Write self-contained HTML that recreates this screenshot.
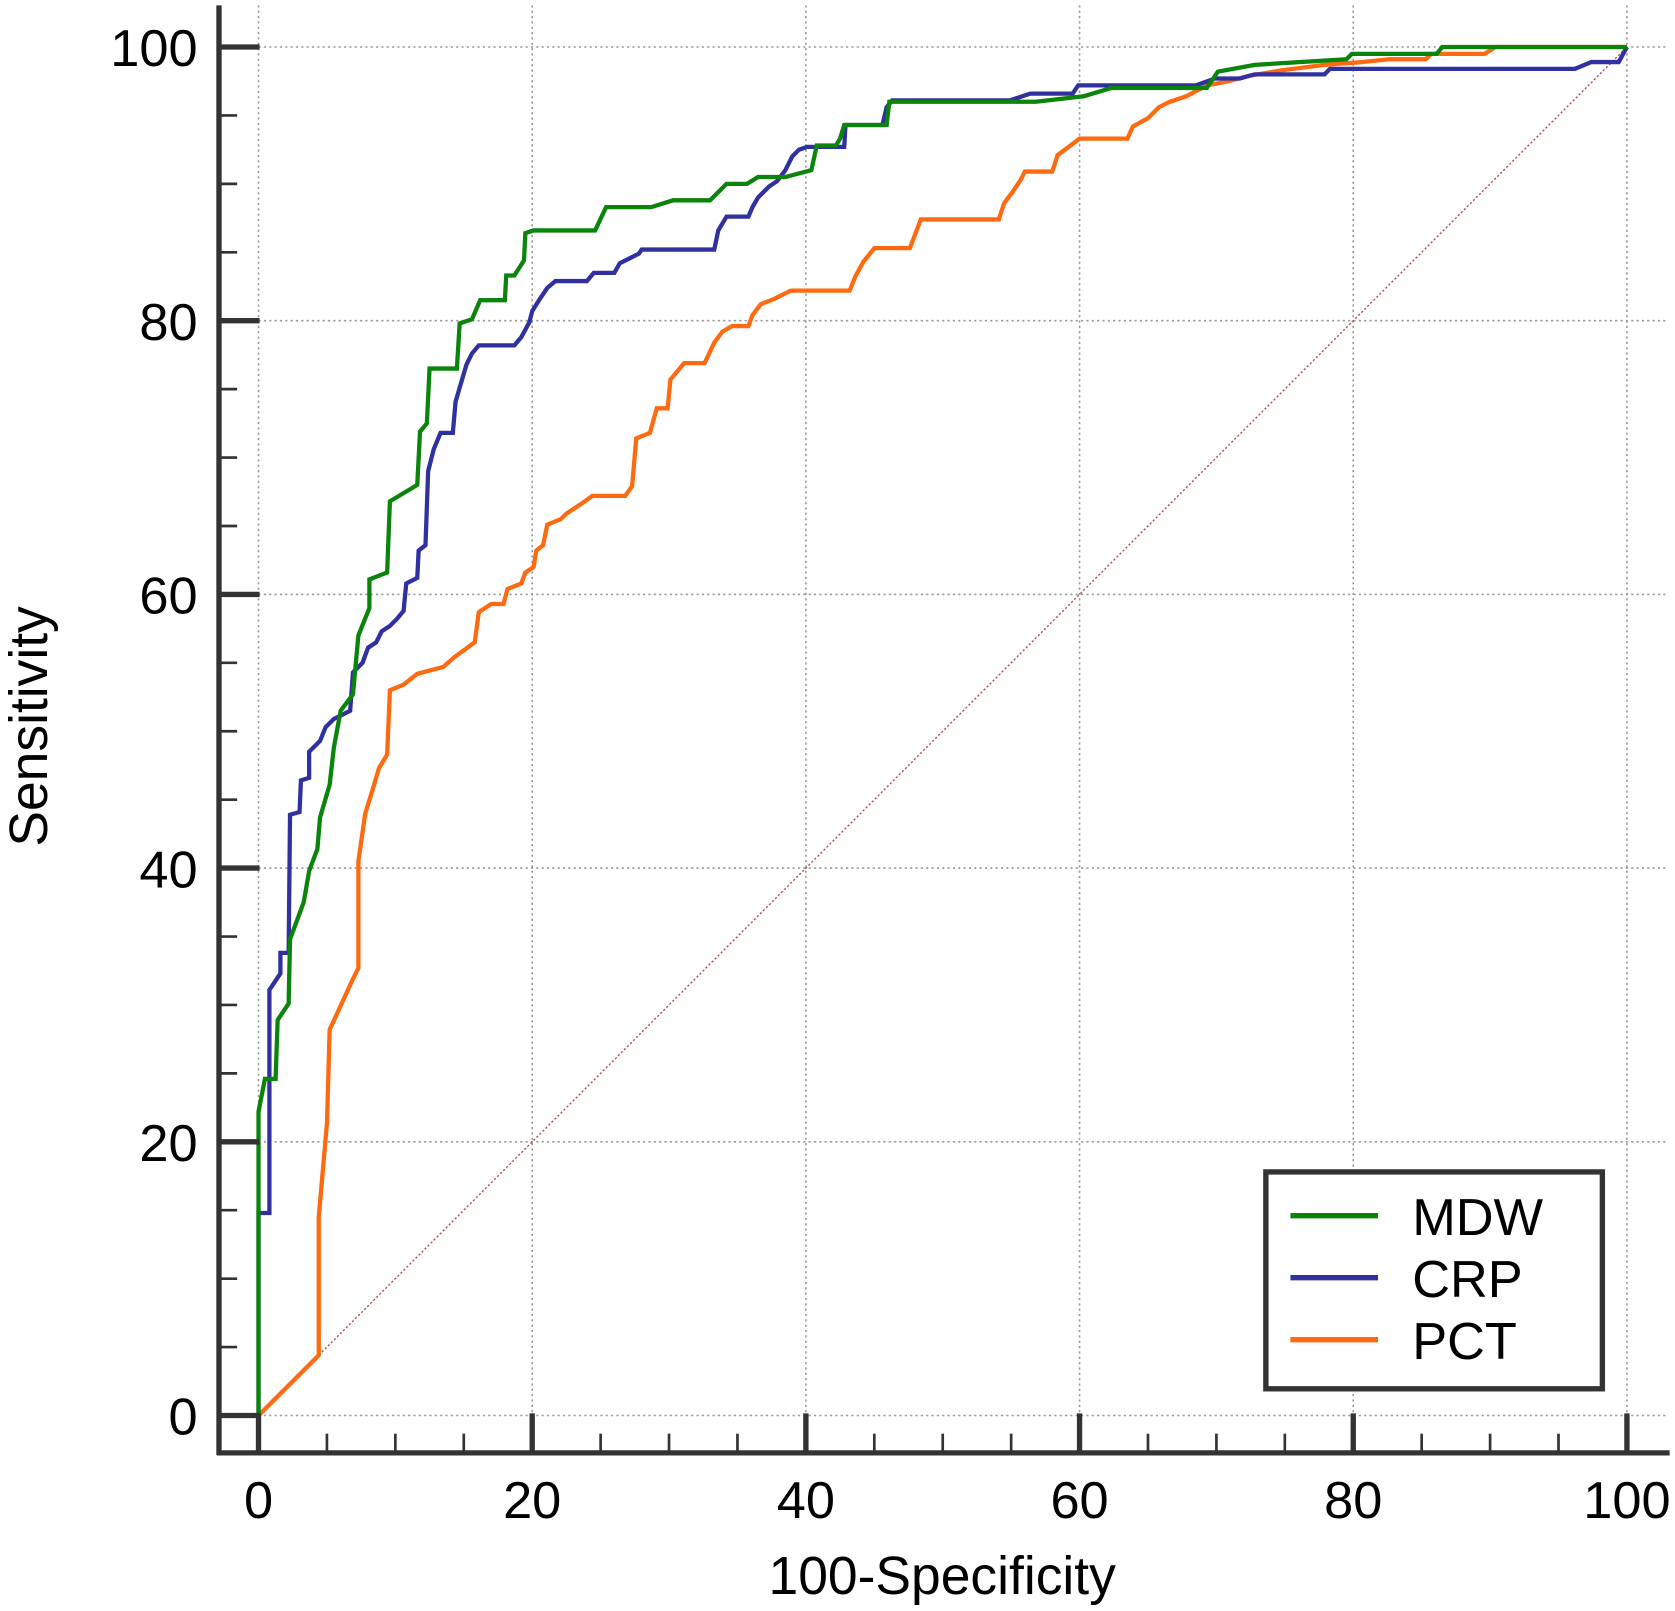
<!DOCTYPE html>
<html><head><meta charset="utf-8"><style>
html,body{margin:0;padding:0;background:#fff;}
svg{display:block;font-family:"Liberation Sans",Arial,sans-serif;}
</style></head><body>
<svg id="chart" width="1675" height="1611" viewBox="0 0 1568 1508" preserveAspectRatio="none" xmlns="http://www.w3.org/2000/svg">
<g id="grid"></g>
<line x1="242" y1="1325" x2="1523" y2="44" stroke="#b5504a" stroke-width="1.3" stroke-dasharray="2,2"/>
<g id="series"></g>
<g id="axes"></g>
<text transform="translate(44,680) rotate(-90)" text-anchor="middle" font-size="50">Sensitivity</text>
<text x="882" y="1492" text-anchor="middle" font-size="50">100-Specificity</text>
<g>
<rect x="1185" y="1097" width="315" height="203" fill="#fff" stroke="#333" stroke-width="5"/>
<line x1="1208" y1="1138" x2="1290" y2="1138" stroke="#0a840a" stroke-width="5"/>
<text x="1322" y="1156" font-size="49">MDW</text>
<line x1="1208" y1="1196" x2="1290" y2="1196" stroke="#3030a0" stroke-width="5"/>
<text x="1322" y="1214" font-size="49">CRP</text>
<line x1="1208" y1="1254" x2="1290" y2="1254" stroke="#ff6a10" stroke-width="5"/>
<text x="1322" y="1272" font-size="49">PCT</text>
</g>
</svg>
<script>
const xTicks=[0,20,40,60,80,100];
const yTicks=[0,20,40,60,80,100];
const mdwFpr=[0,0,0.47,1.25,1.4,2.2,2.3,3.3,3.7,4.3,4.5,5.2,5.5,6.0,6.9,7.3,8.1,8.1,9.4,9.6,11.6,11.8,12.3,12.5,14.5,14.7,15.6,16.2,18.0,18.1,18.7,19.4,19.5,20.1,24.6,25.4,28.7,30.3,33.0,34.2,35.7,36.5,38.5,40.4,40.8,42.2,42.5,42.8,45.9,46.1,56.8,60.3,62.3,69.3,70.1,72.8,79.5,79.9,86.1,86.5,100];
const mdwSens=[0,22.2,24.6,24.6,28.9,30.1,34.8,37.5,39.8,41.4,43.7,46.1,48.8,51.5,52.7,57.0,59.0,61.1,61.6,66.8,68.0,71.9,72.5,76.5,76.5,79.8,80.1,81.5,81.5,83.3,83.3,84.4,86.4,86.6,86.6,88.3,88.3,88.8,88.8,90.0,90.0,90.5,90.5,91.0,92.8,92.8,93.3,94.3,94.3,96.0,96.0,96.4,97.0,97.0,98.2,98.7,99.1,99.5,99.5,100,100];
const crpFpr=[0,0,0.8,0.8,1.6,1.6,2.2,2.3,3.0,3.1,3.7,3.7,4.5,4.9,5.5,6.7,6.9,7.6,8.0,8.6,9.0,9.6,10.1,10.6,10.8,11.6,11.7,12.2,12.4,12.8,13.3,14.2,14.4,15.2,15.6,16.1,18.7,19.2,19.8,20.0,20.5,21.1,21.7,24.0,24.5,26.0,26.4,27.2,27.8,28.0,33.3,33.6,34.2,35.8,36.1,36.5,37.3,37.9,38.5,39.0,39.5,40.1,42.8,42.9,45.6,45.9,46.3,54.9,56.4,59.5,59.9,68.5,69.9,71.7,72.8,77.9,78.3,96.2,97.4,99.4,100];
const crpSens=[0,14.8,14.8,31.1,32.3,33.8,33.8,43.9,44.1,46.4,46.6,48.5,49.3,50.3,50.9,51.5,54.3,55.0,56.1,56.5,57.3,57.7,58.2,58.8,60.8,61.2,63.2,63.6,69.0,70.6,71.8,71.8,74.1,76.8,77.6,78.2,78.2,78.8,79.9,80.7,81.5,82.4,82.9,82.9,83.5,83.5,84.2,84.6,84.9,85.2,85.2,86.6,87.6,87.6,88.3,89.0,89.8,90.2,91.0,92.0,92.5,92.7,92.7,94.3,94.3,95.6,96.1,96.1,96.6,96.6,97.2,97.2,97.7,97.7,98.0,98.0,98.4,98.4,98.9,98.9,100];
const pctFpr=[0,4.4,4.4,5.0,5.2,6.9,7.3,7.3,7.8,8.3,8.8,9.4,9.6,10.6,11.6,13.5,14.3,15.8,16.1,17.0,17.9,18.2,19.2,19.5,20.1,20.3,20.8,21.1,22.1,22.5,23.7,24.4,26.8,27.3,27.6,28.6,29.1,29.9,30.1,31.1,32.6,33.3,33.9,34.6,35.8,36.1,36.7,37.7,38.9,43.2,43.6,44.2,45.0,47.6,48.4,54.1,54.5,55.1,55.7,56.0,58.0,58.4,60.0,63.5,63.9,65.0,65.8,66.6,67.8,69.3,70.9,72.4,74.8,77.9,80.6,82.6,85.3,85.7,89.6,90.4,100];
const pctSens=[0,4.4,14.5,21.4,28.2,31.9,32.7,40.5,44.0,45.6,47.3,48.3,53.0,53.4,54.2,54.7,55.4,56.5,58.7,59.3,59.3,60.4,60.8,61.6,62.0,63.2,63.6,65.1,65.5,65.9,66.7,67.2,67.2,67.9,71.4,71.8,73.6,73.6,75.7,76.9,76.9,78.4,79.2,79.6,79.6,80.4,81.2,81.6,82.2,82.2,83.2,84.3,85.3,85.3,87.4,87.4,88.6,89.4,90.3,90.9,90.9,92.1,93.3,93.3,94.2,94.8,95.6,96.0,96.4,97.2,97.5,97.9,98.3,98.7,98.9,99.1,99.1,99.5,99.5,100,100];

const NS="http://www.w3.org/2000/svg";
function sx(v){return 242+v*12.81;}
function sy(v){return 1325-v*12.81;}
function mk(tag,attrs,parent){const e=document.createElementNS(NS,tag);for(const k in attrs)e.setAttribute(k,attrs[k]);parent.appendChild(e);return e;}
const grid=document.getElementById('grid');
xTicks.forEach(t=>{
  const l=mk('line',{x1:sx(t),x2:sx(t),y1:5,y2:1358,stroke:'#999','stroke-width':1.5,'stroke-dasharray':'2,3'},grid);
  
  
});
yTicks.forEach(t=>{
  const l=mk('line',{x1:207,x2:1562,y1:sy(t),y2:sy(t),stroke:'#999','stroke-width':1.5,'stroke-dasharray':'2,3'},grid);
  
  
});
const series=document.getElementById('series');
[[pctFpr,pctSens,'#ff6a10','pct-curve'],[crpFpr,crpSens,'#3030a0','crp-curve'],[mdwFpr,mdwSens,'#0a840a','mdw-curve']].forEach(s=>{
  const pts=s[0].map((x,i)=>sx(x).toFixed(1)+','+sy(s[1][i]).toFixed(1)).join(' ');
  const p=mk('polyline',{points:pts,fill:'none',stroke:s[2],'stroke-width':4,'stroke-linejoin':'miter'},series);
  
  
});
const axes=document.getElementById('axes');
mk('line',{x1:205,y1:5,x2:205,y2:1362,stroke:'#333','stroke-width':5},axes);
mk('line',{x1:203,y1:1360,x2:1563,y2:1360,stroke:'#333','stroke-width':5},axes);
for(let v=0;v<=100;v+=5){
  const major=v%20===0;
  const ty=mk('line',{x1:205,x2:major?243:222,y1:sy(v),y2:sy(v),stroke:'#333','stroke-width':major?5:2.5},axes);
  
  
  const tx=mk('line',{x1:sx(v),x2:sx(v),y1:1360,y2:major?1323:1342,stroke:'#333','stroke-width':major?5:2.5},axes);
  
  
}
yTicks.forEach(t=>{
  const e=mk('text',{x:185,y:sy(t)+18,'text-anchor':'end','font-size':49},axes);
  e.textContent=t;
  
  
});
xTicks.forEach(t=>{
  const e=mk('text',{x:sx(t),y:1421,'text-anchor':'middle','font-size':49},axes);
  e.textContent=t;
  
  
});
</script>
</body></html>
